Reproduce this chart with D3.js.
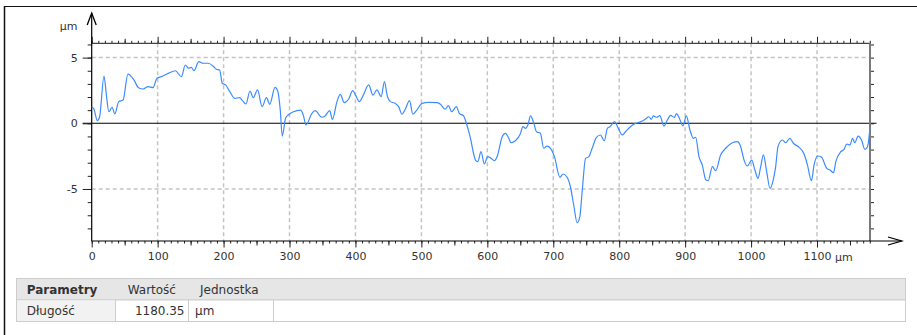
<!DOCTYPE html>
<html>
<head>
<meta charset="utf-8">
<script src="https://cdn.jsdelivr.net/npm/d3@7"></script>
<style>
  body { margin: 0; background: #fff; }
  svg { display: block; font-family: "DejaVu Sans", Verdana, sans-serif; }
</style>
</head>
<body>
<svg id="chart" width="917" height="335"></svg>
<script>
// Surface profile: position along the trace (µm) and height (µm)
const positions = [
  0, 3.5, 8.5, 12, 18.7, 22, 26, 31, 35, 41, 47.5, 55, 64, 71, 78, 85.5, 93, 99, 105.7, 116,
  127, 136, 142, 147, 151, 155, 162.5, 169, 176.5, 184, 189, 194, 198, 203, 209.5, 217, 224.5, 228, 234, 240,
  245, 251.5, 258.5, 265, 270, 278, 282, 286, 289, 294, 298, 306, 317, 321, 325, 334, 339, 349, 354, 361,
  365, 372, 377, 383, 389.5, 396, 400, 406, 412, 420, 426.5, 432.5, 439, 444, 448, 453, 460, 465.5, 470.5, 475.5,
  482, 487, 493, 501, 511, 524, 529, 536, 541, 546, 553, 557.5, 564, 569, 575, 579, 582, 585.5, 590.5, 595.5,
  600.5, 605.7, 610.7, 615.7, 622.5, 627.5, 632.5, 636, 642.5, 650, 654, 658, 661.5, 665.5, 670.5, 674.5, 680.5, 685.5, 690.5, 695.8,
  701.8, 710, 715, 721, 726, 731, 736.3, 740.3, 744, 749, 754, 759, 765.5, 771.5, 777.5, 782, 786, 793, 797, 804.6,
  809.6, 817, 825, 832.5, 840, 845, 848.6, 851.7, 856.7, 861.7, 867.8, 873, 878, 883.5, 887, 890.6, 896.7, 901.8, 907.3, 912.4,
  916, 921, 926, 931.5, 935, 941.3, 946.3, 953.8, 961.4, 971.6, 979.2, 984.2, 989.3, 994.4, 1001, 1005.5, 1010.5, 1014.6, 1018.7, 1023.7,
  1028.7, 1033.8, 1037.3, 1040.8, 1047.5, 1052.5, 1058.6, 1064.2, 1072.8, 1080.4, 1085.5, 1091.6, 1095.5, 1100.7, 1106.8, 1114.8, 1119.8, 1125, 1128.5, 1136,
  1141, 1145.1, 1150.1, 1153.8, 1157.3, 1162.3, 1167.5, 1172.5, 1176.6, 1180.35
];
const heights = [
  1.26, 1.07, 0.2, 0.5, 3.6, 2.28, 0.88, 1.22, 0.71, 1.65, 1.77, 3.75, 3.3, 2.71, 2.61, 2.79, 2.71, 3.43, 3.55, 3.8,
  4.0, 3.55, 4.44, 4.19, 4.26, 4.0, 4.69, 4.57, 4.57, 4.36, 4.11, 4.06, 3.05, 2.92, 2.41, 1.9, 1.95, 1.77, 1.47, 2.46,
  1.95, 2.54, 1.27, 1.95, 1.45, 2.74, 2.48, 1.0, -0.97, 0.38, 0.63, 0.88, 1.01, 0.6, -0.13, 0.76, 0.96, 0.46, 0.56, 0.96,
  0.3, 1.65, 2.2, 1.57, 1.83, 2.48, 2.15, 1.65, 2.15, 2.92, 2.15, 2.54, 2.03, 3.17, 2.15, 1.65, 1.52, 1.27, 0.69, 1.07,
  1.72, 0.69, 1.01, 1.52, 1.6, 1.57, 1.45, 1.07, 1.34, 0.88, 1.27, 0.76, 0.56, -0.13, -1.27, -2.28, -2.8, -2.92, -2.16, -3.1,
  -2.54, -2.67, -2.85, -2.41, -1.02, -0.76, -1.14, -1.48, -1.33, -0.81, -0.26, -0.38, -0.13, 0.56, 0.0, -0.64, -0.76, -1.9, -1.73, -1.9,
  -2.54, -4.11, -3.86, -4.11, -4.83, -6.22, -7.57, -7.11, -5.08, -2.67, -2.54, -1.9, -1.07, -0.89, -1.33, -0.38, -0.26, 0.12, -0.21, -0.89,
  -0.64, -0.26, 0.0, 0.12, 0.33, 0.5, 0.3, 0.56, 0.46, 0.58, -0.21, 0.25, 0.6, 0.45, 0.74, 0.46, -0.2, 0.56, -0.51, -1.14,
  -1.07, -2.54, -3.18, -4.32, -4.37, -3.3, -3.61, -2.41, -1.9, -1.48, -1.4, -1.78, -2.8, -3.25, -2.8, -3.5, -4.19, -3.3, -2.41, -3.69,
  -4.95, -4.27, -3.3, -1.78, -1.27, -1.48, -1.14, -1.52, -1.83, -2.34, -3.18, -4.37, -3.18, -2.49, -2.59, -3.43, -3.56, -3.76, -2.92, -2.16,
  -1.98, -1.58, -1.65, -1.14, -1.48, -0.97, -1.27, -1.98, -1.78, -0.3
];

const profileLength = 1180.35;
const xTickValues = [0, 100, 200, 300, 400, 500, 600, 700, 800, 900, 1000, 1100];
const yTickValues = [-5, 0, 5];
const xGridValues = [100, 200, 300, 400, 500, 600, 700, 800, 900, 1000, 1100];
const yGridValues = [-5, 5];
const unitLabel = "µm";

const tableHeader = ["Parametry", "Wartość", "Jednostka"];
const tableRow = ["Długość", "1180.35", "µm"];

const svg = d3.select("#chart");

const x = d3.scaleLinear().domain([0, profileLength]).range([91.7, 870]);
const y = d3.scaleLinear().domain([-8.96, 6.09]).range([241, 43.3]);
const [x0, x1] = x.range();
const [yB, yT] = y.range();

// outer frame
svg.append("line").attr("x1", 4).attr("x2", 917).attr("y1", 6.5).attr("y2", 6.5)
  .attr("stroke", "#111").attr("stroke-width", 1);
svg.append("line").attr("x1", 4.5).attr("x2", 4.5).attr("y1", 6).attr("y2", 335)
  .attr("stroke", "#111").attr("stroke-width", 1.5);

// dashed grid
const grid = svg.append("g").attr("stroke", "#c4c4c4").attr("stroke-width", 1.5)
  .attr("stroke-dasharray", "4,3").attr("fill", "none");
grid.selectAll(".gx").data(xGridValues).join("line")
  .attr("x1", d => x(d)).attr("x2", d => x(d)).attr("y1", yT).attr("y2", yB);
grid.selectAll(".gy").data(yGridValues).join("line")
  .attr("x1", x0).attr("x2", x1).attr("y1", d => y(d)).attr("y2", d => y(d));

// zero line
svg.append("line").attr("x1", x0 - 9).attr("x2", x1 + 6.5)
  .attr("y1", y(0)).attr("y2", y(0)).attr("stroke", "#000").attr("stroke-width", 1.1);

function tickLayer(axis, transform) {
  const g = svg.append("g").attr("transform", transform).call(axis);
  g.select(".domain").remove();
  g.selectAll(".tick line").attr("stroke", "#222");
  return g;
}

const minorX = d3.range(0, 1181, 10);
const midX = d3.range(50, 1181, 100);
const minorY = d3.range(-8, 7, 1);

// bottom ticks
tickLayer(d3.axisBottom(x).tickValues(minorX).tickSize(2.5).tickFormat(""), `translate(0,${yB})`);
tickLayer(d3.axisBottom(x).tickValues(midX).tickSize(4.5).tickFormat(""), `translate(0,${yB})`);
const bx = tickLayer(d3.axisBottom(x).tickValues(xTickValues).tickSize(6.5).tickPadding(5)
  .tickFormat(d => d), `translate(0,${yB})`);
bx.selectAll("text").attr("font-size", 11).attr("fill", "#333")
  .attr("font-family", "DejaVu Sans, Verdana, sans-serif");
const lastTick = bx.selectAll(".tick").filter(d => d === 1100).select("text");
const lastNode = lastTick.node();
const lastW = lastNode.getComputedTextLength();
bx.append("text").attr("x", x(1100) + lastW / 2 + 4).attr("y", 19.5)
  .attr("fill", "#333").attr("font-size", 11).attr("text-anchor", "start")
  .attr("font-family", "DejaVu Sans, Verdana, sans-serif").text(unitLabel);

// top ticks
tickLayer(d3.axisTop(x).tickValues(minorX).tickSize(2.5).tickFormat(""), `translate(0,${yT})`);
tickLayer(d3.axisTop(x).tickValues(midX).tickSize(4.5).tickFormat(""), `translate(0,${yT})`);
tickLayer(d3.axisTop(x).tickValues(xTickValues).tickSize(6.5).tickFormat(""), `translate(0,${yT})`);

// left ticks
tickLayer(d3.axisLeft(y).tickValues(minorY).tickSize(4).tickFormat(""), `translate(${x0},0)`);
const ly = tickLayer(d3.axisLeft(y).tickValues(yTickValues).tickSize(9).tickPadding(5)
  .tickFormat(d => d), `translate(${x0},0)`);
ly.selectAll("text").attr("font-size", 11).attr("fill", "#333")
  .attr("font-family", "DejaVu Sans, Verdana, sans-serif");

// right ticks
tickLayer(d3.axisRight(y).tickValues(minorY).tickSize(4).tickFormat(""), `translate(${x1},0)`);

// top and right edges of the plot
svg.append("line").attr("x1", x0).attr("x2", x1 + 1).attr("y1", yT).attr("y2", yT)
  .attr("stroke", "#444").attr("stroke-width", 1.3);
svg.append("line").attr("x1", x1).attr("x2", x1).attr("y1", yT).attr("y2", yB)
  .attr("stroke", "#7a7a7a").attr("stroke-width", 2);

// axis lines with open arrow heads
svg.append("line").attr("x1", x0).attr("x2", x0).attr("y1", yB).attr("y2", 13)
  .attr("stroke", "#000").attr("stroke-width", 1.2);
svg.append("path").attr("d", `M${x0 - 4.5},25 L${x0},13 L${x0 + 4.5},25`)
  .attr("fill", "none").attr("stroke", "#000").attr("stroke-width", 1.3);
svg.append("line").attr("x1", x0).attr("x2", 901.7).attr("y1", yB).attr("y2", yB)
  .attr("stroke", "#000").attr("stroke-width", 1.2);
svg.append("path").attr("d", `M888,${yB - 4} L901.7,${yB} L888,${yB + 4}`)
  .attr("fill", "none").attr("stroke", "#000").attr("stroke-width", 1.3);

// y unit label
svg.append("text").attr("x", 77.5).attr("y", 30).attr("text-anchor", "end")
  .attr("font-size", 11).attr("fill", "#333").text(unitLabel);

// profile line
const pts = positions.map((p, i) => [p, heights[i]]);
svg.append("path").datum(pts)
  .attr("fill", "none").attr("stroke", "#3c8cff").attr("stroke-width", 1.2)
  .attr("stroke-linejoin", "round")
  .attr("d", d3.line().x(d => x(d[0])).y(d => y(d[1])).curve(d3.curveMonotoneX));

// parameter table
const tbl = svg.append("g");
tbl.append("rect").attr("x", 16.5).attr("y", 278.5).attr("width", 889).attr("height", 21.5)
  .attr("fill", "#e6e6e6").attr("stroke", "#cdcdcd");
tbl.append("rect").attr("x", 16.5).attr("y", 300).attr("width", 889).attr("height", 21.5)
  .attr("fill", "#fff").attr("stroke", "#cdcdcd");
tbl.append("rect").attr("x", 17).attr("y", 300.5).attr("width", 98).attr("height", 20.5)
  .attr("fill", "#f2f2f2");
[115.5, 188.5, 273.5].forEach(cx => {
  tbl.append("line").attr("x1", cx).attr("x2", cx).attr("y1", 300).attr("y2", 321.5)
    .attr("stroke", "#cdcdcd");
});
const headX = [26.7, 127.7, 200];
tbl.selectAll(".th").data(tableHeader).join("text")
  .attr("x", (d, i) => headX[i]).attr("y", 293.5)
  .attr("font-size", 12).attr("fill", "#333")
  .attr("font-weight", (d, i) => i === 0 ? "bold" : "normal").text(d => d);
const rowX = [26.7, 184.5, 195];
const rowAnchor = ["start", "end", "start"];
tbl.selectAll(".td").data(tableRow).join("text")
  .attr("x", (d, i) => rowX[i]).attr("y", 315)
  .attr("text-anchor", (d, i) => rowAnchor[i])
  .attr("font-size", 12).attr("fill", "#333").text(d => d);
</script>
</body>
</html>
